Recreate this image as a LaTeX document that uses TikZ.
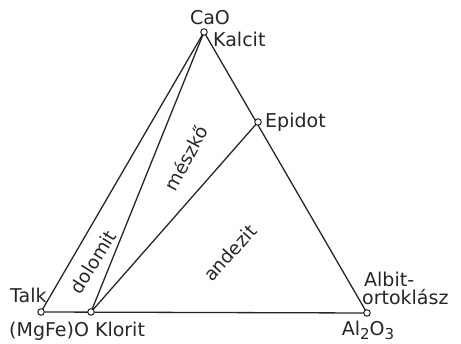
\documentclass[tikz,border=0pt]{standalone}
\usepackage{fontspec}
\setmainfont{DejaVu Sans}
\begin{document}
\begin{tikzpicture}[x=1pt,y=-1pt,
  edge/.style={line width=1.3pt, black!85},
  pt/.style={circle, draw=black!85, fill=white, line width=1pt, inner sep=0pt, minimum size=6.5pt},
  lbl/.style={inner sep=0pt, font=\fontsize{19}{22}\selectfont, text=black!85},
  fld/.style={inner sep=0pt, font=\fontsize{18.5}{22}\selectfont, text=black!85}]
\useasboundingbox (0,0) rectangle (461,344);
\coordinate (cao) at (204,32);
\coordinate (talk) at (41,312);
\coordinate (klo) at (91,312);
\coordinate (al) at (367,313);
\coordinate (epi) at (258,122);
\draw[edge] (talk) -- (cao) -- (al) -- (talk);
\draw[edge] (klo) -- (cao);
\draw[edge] (klo) -- (epi);
\node[pt] (ncao) at (cao) {};
\node[pt] (ntalk) at (talk) {};
\node[pt] (nklo) at (klo) {};
\node[pt] (nal) at (al) {};
\node[pt] (nepi) at (epi) {};
\node[lbl, anchor=base] (tcao) at (210,25) {CaO};
\node[lbl, anchor=base west] (tkal) at (213,47) {Kalcit};
\node[lbl, anchor=base west] (tepi) at (265,128) {Epidot};
\node[lbl, anchor=base west] (ttalk) at (10,303) {Talk};
\node[lbl, anchor=base west] (tmg) at (9,337) {(MgFe)O Klorit};
\node[lbl, anchor=base west] (talb) at (364,287) {Albit-};
\node[lbl, anchor=base west] (tort) at (362,305) {ortoklász};
\node[lbl, anchor=base] (tal) at (368,336) {Al\raisebox{-4pt}{\fontsize{15}{15}\selectfont 2}O\raisebox{-4pt}{\fontsize{15}{15}\selectfont 3}};
\node[fld, rotate=58] (tdol) at (93,262) {dolomit};
\node[fld, rotate=62] (tmes) at (186,158) {mészkő};
\node[fld, rotate=48] (tand) at (230,253) {andezit};
\end{tikzpicture}
\end{document}
